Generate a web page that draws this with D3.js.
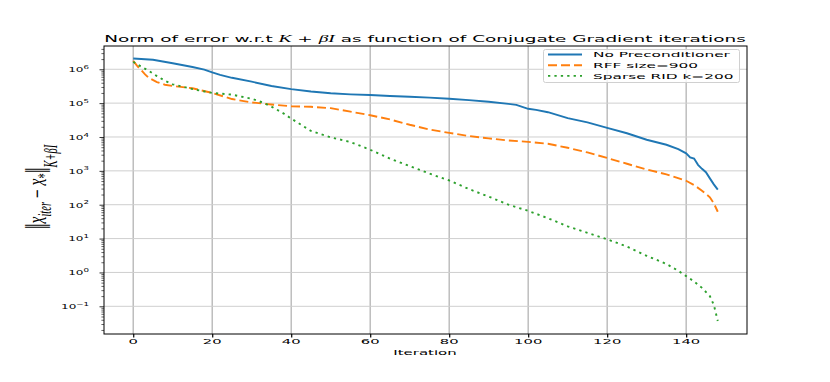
<!DOCTYPE html>
<html lang="en">
<head>
  <meta charset="UTF-8">
  <title>Norm of error vs CG iterations</title>
  <script src="https://d3js.org/d3.v7.min.js"></script>
  <style>
    body { margin: 0; background: #fff; }
    svg { display: block; font-family: "DejaVu Sans", sans-serif; }
  </style>
</head>
<body>
  <svg id="chart" width="830" height="382"></svg>

  <script>
    // --- data ---
    const blueIter = [0, 5, 10, 15, 18, 20, 22, 25, 30, 35, 40, 45, 50, 55, 60, 65, 70, 75, 80, 85,
                      90, 95, 97, 100, 102, 105, 110, 115, 120, 125, 130, 135, 138, 140, 141, 142, 143, 144, 145, 146, 147, 148];
    const blueVal  = [2.09e6, 1.91e6, 1.51e6, 1.17e6, 9.8e5, 8.1e5, 6.8e5, 5.6e5, 4.3e5, 3.2e5,
                      2.6e5, 2.2e5, 1.95e5, 1.82e5, 1.74e5, 1.62e5, 1.55e5, 1.45e5, 1.35e5, 1.23e5,
                      1.10e5, 9.5e4, 8.9e4, 6.8e4, 6.3e4, 5.4e4, 3.6e4, 2.7e4, 1.86e4, 1.29e4,
                      8.3e3, 5.9e3, 4.4e3, 3.3e3, 2.5e3, 2.3e3, 1.51e3, 1.15e3, 910, 600, 400, 280];

    const rffIter = [0, 1, 2, 3, 4, 6, 8, 10, 15, 20, 25, 30, 35, 40, 45, 50, 55, 60, 65, 70,
                     75, 80, 85, 90, 95, 100, 105, 110, 115, 120, 125, 130, 135, 140, 142, 144, 146, 147, 148];
    const rffVal  = [1.78e6, 1.26e6, 9.5e5, 7.1e5, 5.5e5, 4.2e5, 3.5e5, 3.2e5, 2.75e5, 2.0e5,
                     1.32e5, 1.05e5, 9.1e4, 8.1e4, 7.8e4, 7.1e4, 5.6e4, 4.4e4, 3.3e4, 2.3e4,
                     1.66e4, 1.32e4, 1.07e4, 9.1e3, 7.9e3, 7.2e3, 6.3e3, 4.8e3, 3.5e3, 2.4e3,
                     1.62e3, 1.10e3, 790, 510, 380, 260, 166, 110, 62];

    const ridIter = [0, 2, 4, 6, 8, 10, 15, 20, 25, 30, 33, 35, 38, 40, 42, 45, 50, 55, 60, 65,
                     70, 75, 80, 85, 90, 95, 100, 105, 110, 115, 120, 125, 130, 135, 138, 140, 142, 144, 146, 147, 148];
    const ridVal  = [1.66e6, 1.20e6, 8.9e5, 6.3e5, 4.6e5, 3.6e5, 2.6e5, 2.0e5, 1.78e5, 1.35e5,
                     1.02e5, 7.9e4, 5.0e4, 3.5e4, 2.5e4, 1.51e4, 9.8e3, 7.1e3, 4.2e3, 2.3e3,
                     1.38e3, 830, 520, 290, 174, 100, 66, 40, 23, 14.8,
                     9.5, 5.8, 3.1, 1.78, 1.12, 0.78, 0.54, 0.35, 0.20, 0.11, 0.037];

    const seriesNames = ['No Preconditioner', 'RFF size=900', 'Sparse RID k=200'];
    const xTicks = [0, 20, 40, 60, 80, 100, 120, 140];
    const yTickExps = [-1, 0, 1, 2, 3, 4, 5, 6];

    // --- layout ---
    const svg = d3.select('#chart');
    const plot = { left: 104, right: 747, top: 46, bottom: 334 };
    const SX = 2.05;    // the picture is stretched sideways, text too
    const SX_Y = 1.6;   // y tick labels look a bit narrower

    const x = d3.scaleLinear().domain([-7.4, 155.4]).range([plot.left, plot.right]);
    const y = d3.scaleLog().domain([0.0152, 4.87e6]).range([plot.bottom, plot.top]);

    const series = [
      { name: seriesNames[0], iter: blueIter, val: blueVal, color: '#1f77b4', dash: null },
      { name: seriesNames[1], iter: rffIter,  val: rffVal,  color: '#ff7f0e', dash: '9,4' },
      { name: seriesNames[2], iter: ridIter,  val: ridVal,  color: '#2ca02c', dash: '2.3,4.1' }
    ];

    // stretched text helper
    function stext(parent, px, py, anchor, size, sx) {
      return parent.append('text')
        .attr('transform', `translate(${px},${py}) scale(${sx || SX},1)`)
        .attr('text-anchor', anchor)
        .style('font-size', size + 'px')
        .attr('fill', '#000');
    }

    // grid
    const grid = svg.append('g');
    grid.selectAll('line.v').data(xTicks).enter().append('line')
      .attr('x1', d => x(d)).attr('x2', d => x(d))
      .attr('y1', plot.top).attr('y2', plot.bottom)
      .attr('stroke', '#b9b9b9').attr('stroke-width', 1.4);
    grid.selectAll('line.h').data(yTickExps.map(e => Math.pow(10, e))).enter().append('line')
      .attr('x1', plot.left).attr('x2', plot.right)
      .attr('y1', d => y(d)).attr('y2', d => y(d))
      .attr('stroke', '#cfcfcf').attr('stroke-width', 1);

    // lines
    const line = d3.line().x(d => x(d[0])).y(d => y(d[1]));
    series.forEach(s => {
      svg.append('path')
        .datum(s.iter.map((t, i) => [t, s.val[i]]))
        .attr('d', line)
        .attr('fill', 'none')
        .attr('stroke', s.color)
        .attr('stroke-width', 1.9)
        .attr('stroke-dasharray', s.dash);
    });

    // axes (ticks only, labels drawn separately because of stretch)
    const xAxis = svg.append('g')
      .attr('transform', `translate(0,${plot.bottom})`)
      .call(d3.axisBottom(x).tickValues(xTicks).tickSize(3.5).tickSizeOuter(0).tickFormat(''));
    xAxis.select('.domain').remove();
    xAxis.selectAll('line').attr('stroke', '#000').attr('stroke-width', 1.2);

    const majors = yTickExps.map(e => Math.pow(10, e));
    const minors = y.ticks().filter(v => Math.abs(Math.log10(v) - Math.round(Math.log10(v))) > 1e-6);
    const yAxis = svg.append('g')
      .attr('transform', `translate(${plot.left},0)`)
      .call(d3.axisLeft(y).tickValues(majors).tickSize(4.5).tickSizeOuter(0).tickFormat(''));
    yAxis.select('.domain').remove();
    yAxis.selectAll('line').attr('stroke', '#000').attr('stroke-width', 0.8);
    const yMinor = svg.append('g')
      .attr('transform', `translate(${plot.left},0)`)
      .call(d3.axisLeft(y).tickValues(minors).tickSize(2.6).tickSizeOuter(0).tickFormat(''));
    yMinor.select('.domain').remove();
    yMinor.selectAll('line').attr('stroke', '#000').attr('stroke-width', 0.6);

    // frame
    svg.append('rect')
      .attr('x', plot.left).attr('y', plot.top)
      .attr('width', plot.right - plot.left).attr('height', plot.bottom - plot.top)
      .attr('fill', 'none').attr('stroke', '#000').attr('stroke-width', 1);

    // tick labels
    xTicks.forEach(t => {
      stext(svg, x(t), 344.3, 'middle', 7.2).text(t);
    });
    yTickExps.forEach(e => {
      const t = stext(svg, 89, y(Math.pow(10, e)) + 2.8, 'end', 7.5, SX_Y);
      t.append('tspan').text('10');
      t.append('tspan').attr('dy', -3.2).style('font-size', '5.4px')
        .text(e < 0 ? '\u2212' + (-e) : e);
    });

    // x label
    stext(svg, 425, 354.5, 'middle', 7.3).text('Iteration');

    // title
    const title = stext(svg, 425, 41.5, 'middle', 9);
    title.append('tspan').text('Norm of error w.r.t ');
    title.append('tspan').style('font-family', '"Liberation Serif", serif').style('font-style', 'italic').style('font-size', '9.5px').text('K');
    title.append('tspan').text(' + ');
    title.append('tspan').style('font-family', '"Liberation Serif", serif').style('font-style', 'italic').style('font-size', '9.5px').text('βI');
    title.append('tspan').text(' as function of Conjugate Gradient iterations');

    // y label (math)
    const ylab = svg.append('text')
      .attr('transform', `translate(46,187) scale(1.7,1) rotate(-90)`)
      .attr('text-anchor', 'middle')
      .style('font-family', '"Liberation Serif", serif')
      .style('font-size', '15.5px');
    ylab.append('tspan').style('font-size', '21px').attr('dy', 2.2).text('\u2016');
    ylab.append('tspan').style('font-style', 'italic').attr('dy', -2.2).text('x');
    ylab.append('tspan').style('font-style', 'italic').style('font-size', '10.5px').attr('dy', 3.2).text('iter');
    ylab.append('tspan').attr('dy', -3.2).text(' \u2212 ');
    ylab.append('tspan').style('font-style', 'italic').text('x');
    ylab.append('tspan').style('font-size', '10.5px').attr('dy', 3.2).text('*');
    ylab.append('tspan').style('font-size', '21px').attr('dy', -1).text('\u2016');
    ylab.append('tspan').style('font-style', 'italic').style('font-size', '10.5px').attr('dy', 4.5).text('K+βI');

    // legend
    const lg = svg.append('g');
    lg.append('rect')
      .attr('x', 543.5).attr('y', 49.5).attr('width', 196).attr('height', 33).attr('rx', 2)
      .attr('fill', '#fff').attr('fill-opacity', 0.8)
      .attr('stroke', '#d0d0d0').attr('stroke-width', 1);
    series.forEach((s, i) => {
      const ly = 54.5 + i * 10.7;
      lg.append('line')
        .attr('x1', 548).attr('x2', 582).attr('y1', ly).attr('y2', ly)
        .attr('stroke', s.color).attr('stroke-width', 1.9)
        .attr('stroke-dasharray', s.dash);
      stext(lg, 593, ly + 2.8, 'start', 7.5).text(s.name);
    });
  </script>
</body>
</html>
